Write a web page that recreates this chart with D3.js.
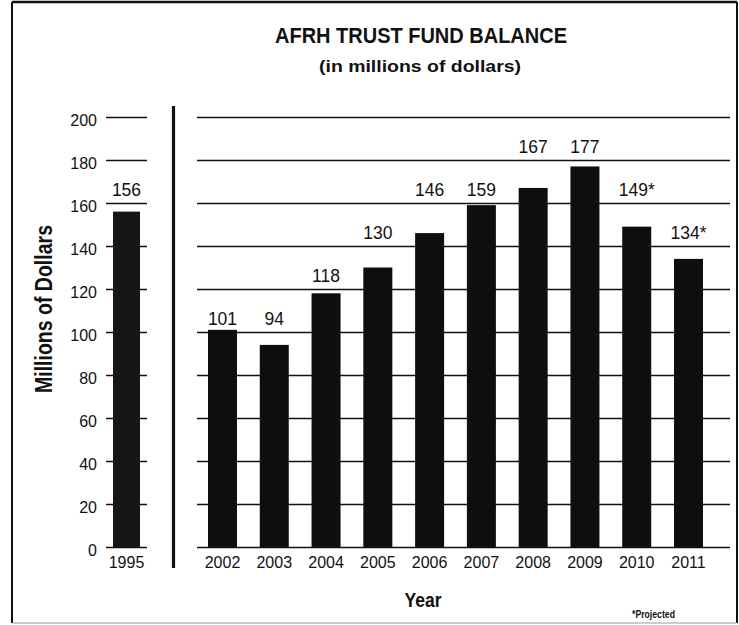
<!DOCTYPE html>
<html>
<head>
<meta charset="utf-8">
<script src="https://cdn.jsdelivr.net/npm/d3@7"></script>
<style>
  html, body { margin: 0; padding: 0; background: #fff; }
  svg { display: block; }
  text { font-family: "Liberation Sans", Arial, sans-serif; fill: #111; }
</style>
</head>
<body>
<svg id="chart" width="739" height="625"></svg>
<script>
// ---- data ----
const leftYears = ["1995"];
const leftValues = [156];
const years = ["2002", "2003", "2004", "2005", "2006", "2007", "2008", "2009", "2010", "2011"];
const values = [101, 94, 118, 130, 146, 159, 167, 177, 149, 134];
const projected = [false, false, false, false, false, false, false, false, true, true];
const yTicks = [0, 20, 40, 60, 80, 100, 120, 140, 160, 180, 200];
const titleText = "AFRH TRUST FUND BALANCE";
const subtitleText = "(in millions of dollars)";
const yAxisTitle = "Millions of Dollars";
const xAxisTitle = "Year";
const footnote = "*Projected";

const svg = d3.select("#chart");
const ink = "#111";

// border
svg.append("line").attr("x1", 12).attr("x2", 737).attr("y1", 2).attr("y2", 2).attr("stroke", ink).attr("stroke-width", 2.5);
svg.append("line").attr("x1", 12).attr("x2", 12).attr("y1", 2).attr("y2", 623).attr("stroke", ink).attr("stroke-width", 2);
svg.append("line").attr("x1", 737).attr("x2", 737).attr("y1", 2).attr("y2", 623).attr("stroke", ink).attr("stroke-width", 2);
svg.append("line").attr("x1", 12).attr("x2", 737).attr("y1", 623).attr("y2", 623).attr("stroke", "#999").attr("stroke-width", 1);

// scales
const y = d3.scaleLinear().domain([0, 200]).range([547, 117]);
const xL = d3.scaleBand().domain(leftYears).range([113, 140]).padding(0);
const xR = d3.scaleBand().domain(years).range([208, 703]).paddingInner(0.44).paddingOuter(0);

// left panel ticks (axis)
const gL = svg.append("g").attr("transform", "translate(147,0)");
gL.call(d3.axisLeft(y).tickValues(yTicks).tickSize(41).tickPadding(9));
gL.select(".domain").remove();
gL.selectAll(".tick line").attr("stroke", ink).attr("stroke-width", 1.6);
gL.selectAll(".tick text")
  .attr("dy", "0.55em")
  .style("font-family", '"Liberation Sans", Arial, sans-serif')
  .style("font-size", "16px")
  .attr("fill", ink);

// right panel grid
const gR = svg.append("g").attr("transform", "translate(730,0)");
gR.call(d3.axisLeft(y).tickValues(yTicks).tickSize(533).tickFormat(""));
gR.select(".domain").remove();
gR.selectAll(".tick line").attr("stroke", ink).attr("stroke-width", 1.6);

// divider
svg.append("line").attr("x1", 173.5).attr("x2", 173.5).attr("y1", 106).attr("y2", 568)
  .attr("stroke", ink).attr("stroke-width", 3.2);

// label placement: first grid band above the bar top where the label fits
function labelY(v) {
  const band = y(0) - y(20);
  let g = Math.floor(v / 20) * 20 + 20;
  while (y(g) + 0.7 * band + 8 > y(v) - 2) g += 20;
  return y(g) + 0.7 * band;
}

// bars
svg.append("g").selectAll("rect").data(leftValues).join("rect")
  .attr("x", (d, i) => xL(leftYears[i]))
  .attr("width", xL.bandwidth())
  .attr("y", d => y(d))
  .attr("height", d => y(0) - y(d))
  .attr("fill", "#161616");

svg.append("g").selectAll("rect").data(values).join("rect")
  .attr("x", (d, i) => xR(years[i]))
  .attr("width", xR.bandwidth())
  .attr("y", d => y(d))
  .attr("height", d => y(0) - y(d))
  .attr("fill", "#0e0e0e");

// value labels
svg.append("g").selectAll("text").data(leftValues).join("text")
  .attr("x", (d, i) => xL(leftYears[i]) + xL.bandwidth() / 2)
  .attr("y", d => labelY(d))
  .attr("dy", "0.36em")
  .attr("text-anchor", "middle")
  .style("font-size", "17.5px")
  .text(d => d);

svg.append("g").selectAll("text").data(values).join("text")
  .attr("x", (d, i) => xR(years[i]) + xR.bandwidth() / 2)
  .attr("y", d => labelY(d))
  .attr("dy", "0.36em")
  .attr("text-anchor", "middle")
  .style("font-size", "17.5px")
  .text((d, i) => d + (projected[i] ? "*" : ""));

// year labels
svg.append("g").selectAll("text").data(leftYears).join("text")
  .attr("x", d => xL(d) + xL.bandwidth() / 2)
  .attr("y", 568)
  .attr("text-anchor", "middle")
  .style("font-size", "16px")
  .text(d => d);

svg.append("g").selectAll("text").data(years).join("text")
  .attr("x", d => xR(d) + xR.bandwidth() / 2)
  .attr("y", 568)
  .attr("text-anchor", "middle")
  .style("font-size", "16px")
  .text(d => d);

// titles (condensed by fitting to the measured widths)
svg.append("text").attr("x", 421).attr("y", 43).attr("text-anchor", "middle")
  .attr("textLength", 292).attr("lengthAdjust", "spacingAndGlyphs")
  .style("font-size", "21.5px").style("font-weight", "bold").text(titleText);
svg.append("text").attr("x", 420).attr("y", 72).attr("text-anchor", "middle")
  .attr("textLength", 202).attr("lengthAdjust", "spacingAndGlyphs")
  .style("font-size", "17px").style("font-weight", "bold").text(subtitleText);

svg.append("text").attr("transform", "translate(52,309) rotate(-90)").attr("text-anchor", "middle")
  .attr("textLength", 168).attr("lengthAdjust", "spacingAndGlyphs")
  .style("font-size", "23px").style("font-weight", "bold").text(yAxisTitle);

svg.append("text").attr("x", 423).attr("y", 607).attr("text-anchor", "middle")
  .attr("textLength", 37).attr("lengthAdjust", "spacingAndGlyphs")
  .style("font-size", "20.5px").style("font-weight", "bold").text(xAxisTitle);

svg.append("text").attr("x", 632).attr("y", 618)
  .attr("textLength", 43).attr("lengthAdjust", "spacingAndGlyphs")
  .style("font-size", "11px").style("font-weight", "bold").text(footnote);
</script>
</body>
</html>
